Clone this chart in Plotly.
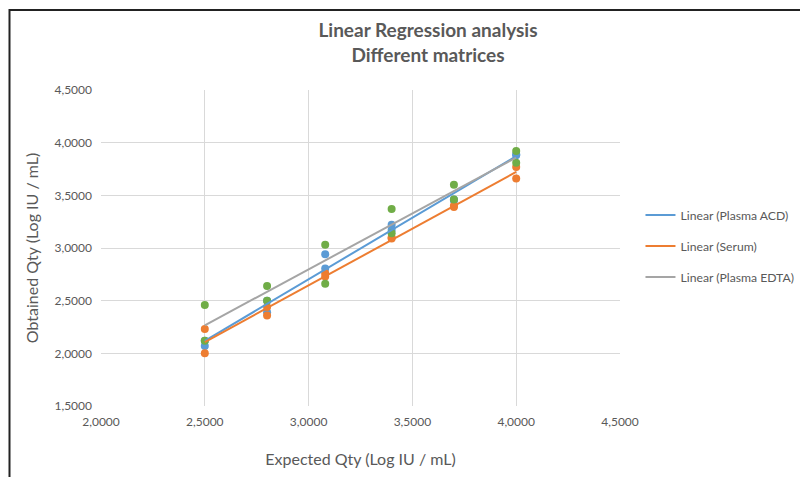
import numpy as np
import plotly.graph_objects as go

# Expected Qty (Log IU / mL)
acd_x = [2.5, 2.5, 2.8, 2.8, 3.08, 3.08, 3.4, 3.4, 3.7, 3.7, 4.0, 4.0]
acd_y = [2.07, 2.12, 2.39, 2.50, 2.94, 2.805, 3.22, 3.17, 3.46, 3.45, 3.88, 3.89]

serum_x = [2.5, 2.5, 2.8, 2.8, 3.08, 3.08, 3.4, 3.4, 3.7, 3.7, 4.0, 4.0]
serum_y = [2.23, 2.00, 2.44, 2.36, 2.76, 2.73, 3.10, 3.09, 3.39, 3.40, 3.77, 3.66]

edta_x = [2.5, 2.5, 2.8, 2.8, 3.08, 3.08, 3.4, 3.4, 3.7, 3.7, 4.0, 4.0]
edta_y = [2.46, 2.12, 2.64, 2.50, 3.03, 2.66, 3.37, 3.14, 3.60, 3.46, 3.92, 3.81]

series = [
    ("Plasma ACD", acd_x, acd_y, "#5B9BD5", "#5B9BD5"),
    ("Serum", serum_x, serum_y, "#ED7D31", "#ED7D31"),
    ("Plasma EDTA", edta_x, edta_y, "#70AD47", "#A5A5A5"),
]

fig = go.Figure()

for name, xs, ys, mcol, lcol in series:
    fig.add_trace(go.Scatter(
        x=xs, y=ys, mode="markers", showlegend=False,
        marker=dict(color=mcol, size=8), hoverinfo="x+y", name=name))

for i, (name, xs, ys, mcol, lcol) in enumerate(series):
    k, b = np.polyfit(xs, ys, 1)
    lx = np.array([min(xs), max(xs)])
    fig.add_trace(go.Scatter(
        x=lx, y=k * lx + b, mode="lines", name="Linear (%s)" % name,
        line=dict(color=lcol, width=2), legendgroup="g%d" % i))

grid = "#D9D9D9"
txt = "#595959"
font_family = "Lato, Calibri, Carlito, sans-serif"

fig.update_layout(
    width=800, height=469,
    margin=dict(l=93, r=188, t=82, b=71, autoexpand=False),
    paper_bgcolor="white", plot_bgcolor="white",
    separators=",.",
    font=dict(family=font_family, color=txt, size=12),
    title=dict(
        text="<b>Linear Regression analysis<br>Different matrices</b>",
        x=(428 - 8) / 800, xanchor="center", xref="container",
        y=1 - 29 / 469, yanchor="top", yref="container",
        font=dict(size=19, color=txt, family=font_family)),
    xaxis=dict(
        range=[2.0, 4.5], dtick=0.5, tick0=2.0, tickformat=".4f",
        showgrid=True, gridcolor=grid, gridwidth=1, automargin=False,
        zeroline=False, showline=False, ticks="", ticklabelstandoff=7,
        title=dict(text="Expected Qty (Log IU / mL)", font=dict(size=16, color=txt), standoff=25),
        tickfont=dict(size=12, color=txt)),
    yaxis=dict(
        range=[1.5, 4.5], dtick=0.5, tick0=1.5, tickformat=".4f",
        showgrid=True, gridcolor=grid, gridwidth=1, automargin=False,
        zeroline=False, showline=False, ticks="", ticklabelstandoff=8,
        title=dict(text="Obtained Qty (Log IU / mL)", font=dict(size=16, color=txt), standoff=11),
        tickfont=dict(size=12, color=txt)),
    legend=dict(
        xref="container", yref="container",
        x=0.7906, xanchor="left", y=0.4925, yanchor="middle",
        traceorder="grouped", tracegroupgap=12,
        font=dict(size=12.2, color=txt), bgcolor="rgba(0,0,0,0)"),
    shapes=[
        dict(type="line", xref="paper", yref="paper",
             x0=(9 - 101) / 519, x1=(812 - 101) / 519,
             y0=(406 - 10) / 316, y1=(406 - 10) / 316,
             line=dict(color="#222222", width=2)),
        dict(type="line", xref="paper", yref="paper",
             x0=(9.5 - 101) / 519, x1=(9.5 - 101) / 519,
             y0=(406 - 9) / 316, y1=(406 - 480) / 316,
             line=dict(color="#222222", width=2)),
    ],
)

fig.write_html("out.html")
